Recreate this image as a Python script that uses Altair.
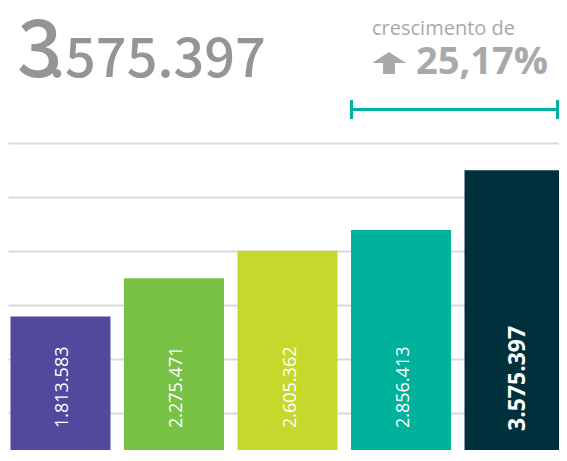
import altair as alt
import pandas as pd

# ---- data ----
YEARS = ["2016", "2017", "2018", "2019", "2020"]
VALUES = [1813583, 2275471, 2605362, 2856413, 3575397]
COLORS = ["#52499E", "#77C244", "#C4D92C", "#00B29B", "#00303B"]
GRID_VALUES = [650000, 1300000, 1950000, 2600000, 3250000, 3900000]
CAPTION = "crescimento de"


def fmt(v):
    return f"{v:,}".replace(",", ".")


total_txt = fmt(VALUES[-1])
TITLE_LEAD = total_txt[0]
TITLE_REST = total_txt[1:]
growth = (VALUES[-1] / VALUES[-2] - 1) * 100
GROWTH_TXT = f"{growth:.2f}%".replace(".", ",")

df = pd.DataFrame({"ano": YEARS, "valor": VALUES, "rotulo": [fmt(v) for v in VALUES]})

W, H = 551, 442
GRAY_BIG = "#939598"
GRAY_SOFT = "#A9A9AB"
TEAL = "#00B2A0"
BIG_FONT = "Noto Sans CJK SC"

x_enc = alt.X("ano:N", sort=YEARS, axis=None,
              scale=alt.Scale(range=[0, 559], paddingInner=0.119, paddingOuter=0.022))

bars = alt.Chart(df).mark_bar().encode(
    x=x_enc,
    y=alt.Y("valor:Q",
            scale=alt.Scale(domain=[204819, 5530120], nice=False, zero=False),
            axis=alt.Axis(values=GRID_VALUES, grid=True, gridColor="#DADADA",
                          gridWidth=2, domain=False, ticks=False, labels=False,
                          title=None)),
    color=alt.Color("ano:N", scale=alt.Scale(domain=YEARS, range=COLORS), legend=None),
)

labels = alt.Chart(df).transform_filter(
    alt.datum.ano != YEARS[-1]
).mark_text(angle=270, align="left", baseline="middle", color="white",
            font="Open Sans", fontSize=18, dy=3).encode(
    x=x_enc, y=alt.value(420), text="rotulo:N")

label_last = alt.Chart(df).transform_filter(
    alt.datum.ano == YEARS[-1]
).mark_text(angle=270, align="left", baseline="middle", color="white",
            font="Open Sans", fontWeight="bold", fontSize=23, dy=3).encode(
    x=x_enc, y=alt.value(423), text="rotulo:N")

t_lead = alt.Chart(pd.DataFrame({"t": [TITLE_LEAD]})).mark_text(
    align="left", baseline="alphabetic", font=BIG_FONT, fontWeight=500,
    fontSize=80, color=GRAY_BIG).encode(x=alt.value(9), y=alt.value(69), text="t:N")

t_rest = alt.Chart(pd.DataFrame({"t": [TITLE_REST]})).mark_text(
    align="left", baseline="alphabetic", font=BIG_FONT, fontWeight=500,
    fontSize=54, color=GRAY_BIG).encode(x=alt.value(41), y=alt.value(69), text="t:N")

t_cap = alt.Chart(pd.DataFrame({"t": [CAPTION]})).mark_text(
    align="left", baseline="alphabetic", font="Open Sans", fontSize=20,
    color=GRAY_SOFT).encode(x=alt.value(364), y=alt.value(27), text="t:N")

t_growth = alt.Chart(pd.DataFrame({"t": [GROWTH_TXT]})).mark_text(
    align="left", baseline="alphabetic", font="Open Sans", fontWeight="bold",
    fontSize=38, color=GRAY_SOFT).encode(x=alt.value(408), y=alt.value(66), text="t:N")

ARROW = "M0,-0.65L1,0L0.35,0L0.35,0.65L-0.35,0.65L-0.35,0L-1,0Z"
arrow = alt.Chart(pd.DataFrame({"t": [1]})).mark_point(
    shape=ARROW, filled=True, size=1156, color=GRAY_SOFT, opacity=1).encode(
    x=alt.value(381), y=alt.value(55))

one = pd.DataFrame({"t": [1]})
br_h = alt.Chart(one).mark_rule(color=TEAL, strokeWidth=3).encode(
    x=alt.value(343), x2=alt.value(551), y=alt.value(101.5))
br_l = alt.Chart(one).mark_rule(color=TEAL, strokeWidth=3).encode(
    x=alt.value(343.5), y=alt.value(92), y2=alt.value(111))
br_r = alt.Chart(one).mark_rule(color=TEAL, strokeWidth=3).encode(
    x=alt.value(549.5), y=alt.value(92), y2=alt.value(111))

chart = alt.layer(
    bars, labels, label_last, t_lead, t_rest, t_cap, t_growth, arrow, br_h, br_l, br_r
).properties(
    width=W, height=H, padding=0,
    autosize=alt.AutoSizeParams(type="none"),
).configure_view(stroke=None)

chart.save("out.html", embed_options={"renderer": "svg", "actions": False})
